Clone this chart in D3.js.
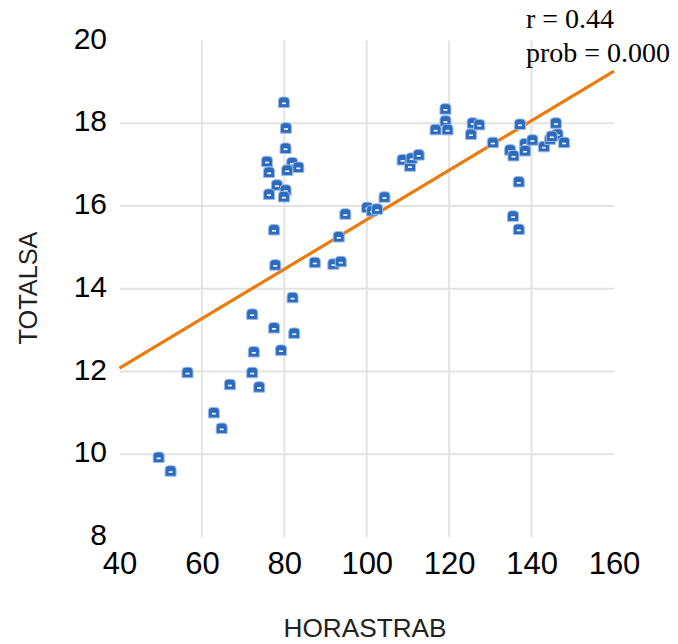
<!DOCTYPE html>
<html>
<head>
<meta charset="utf-8">
<script src="https://cdn.jsdelivr.net/npm/d3@7"></script>
<style>
body { margin: 0; background: #fff; }
</style>
</head>
<body>
<div id="chart"></div>
<script>
// hours worked vs total score, one entry per observation
var horasTrab = [49.5, 52.4, 56.5, 62.9, 64.8, 66.8, 72.2, 72.6, 72.2, 73.9,
  77.5, 79.2, 82.4, 82.0, 77.8, 77.5, 87.4, 91.9, 93.7, 93.2,
  94.8, 100.1, 101.3, 102.5, 104.3, 108.7, 110.5, 110.9, 112.6, 116.7,
  119.1, 119.1, 119.6, 125.3, 125.7, 127.3, 130.6, 137.2, 134.8, 135.6,
  138.4, 138.4, 140.2, 143.0, 144.5, 145.9, 146.3, 144.9, 147.9, 136.9,
  135.5, 136.9, 79.9, 80.4, 80.3, 75.8, 76.3, 81.9, 83.4, 80.7,
  78.2, 76.3, 80.3, 79.9];
var totalSa = [9.92, 9.59, 11.97, 11.0, 10.62, 11.68, 13.38, 12.47, 11.97, 11.62,
  13.05, 12.51, 12.92, 13.78, 14.57, 15.42, 14.63, 14.59, 14.65, 15.25,
  15.8, 15.96, 15.88, 15.92, 16.21, 17.11, 16.96, 17.15, 17.23, 17.84,
  18.34, 18.05, 17.84, 17.73, 18.0, 17.96, 17.53, 17.97, 17.35, 17.21,
  17.5, 17.33, 17.59, 17.43, 17.61, 18.0, 17.73, 17.68, 17.53, 16.58,
  15.75, 15.43, 18.5, 17.88, 17.39, 17.07, 16.81, 17.04, 16.93, 16.86,
  16.5, 16.28, 16.38, 16.22];

var xTicks = [40, 60, 80, 100, 120, 140, 160];
var yTicks = [8, 10, 12, 14, 16, 18, 20];
var fitLine = [9.69, 0.0598]; // intercept, slope
var statText = ["r = 0.44", "prob = 0.000"];

var width = 678;
var height = 644;

var x = d3.scaleLinear().domain([40, 160]).range([119.5, 614]);
var y = d3.scaleLinear().domain([8, 20]).range([537, 40.5]);

var svg = d3.select('#chart')
  .append('svg')
  .attr('width', width)
  .attr('height', height);

// gridlines (inner ticks only)
svg.append('g')
  .selectAll('line')
  .data(xTicks.slice(1, -1))
  .enter()
  .append('line')
  .attr('x1', function (d) { return x(d); })
  .attr('x2', function (d) { return x(d); })
  .attr('y1', y(20))
  .attr('y2', y(8))
  .attr('stroke', '#e3e3e3')
  .attr('stroke-width', 2);

svg.append('g')
  .selectAll('line')
  .data(yTicks.slice(1, -1))
  .enter()
  .append('line')
  .attr('x1', 120)
  .attr('x2', x(160))
  .attr('y1', function (d) { return y(d); })
  .attr('y2', function (d) { return y(d); })
  .attr('stroke', '#e3e3e3')
  .attr('stroke-width', 2);

// axes - labels only
var xAxis = svg.append('g')
  .attr('transform', 'translate(0,' + y(8) + ')')
  .call(d3.axisBottom(x).tickValues(xTicks).tickSize(0).tickPadding(15));
var yAxis = svg.append('g')
  .attr('transform', 'translate(107,0)')
  .call(d3.axisLeft(y).tickValues(yTicks).tickSize(0).tickPadding(0));

[xAxis, yAxis].forEach(function (g) {
  g.select('.domain').remove();
  g.selectAll('text')
    .attr('fill', '#000')
    .style('font-family', 'Liberation Sans, Arial, sans-serif');
});
xAxis.selectAll('text').style('font-size', '31px');
yAxis.selectAll('text').style('font-size', '30px').attr('y', -2);

// regression line
svg.append('line')
  .attr('x1', x(40))
  .attr('y1', y(fitLine[0] + fitLine[1] * 40))
  .attr('x2', x(160))
  .attr('y2', y(fitLine[0] + fitLine[1] * 160))
  .attr('stroke', '#ec7b0c')
  .attr('stroke-width', 3.2);

// points
var pts = svg.append('g')
  .selectAll('g')
  .data(d3.range(horasTrab.length))
  .enter()
  .append('g')
  .attr('transform', function (i) {
    return 'translate(' + x(horasTrab[i]) + ',' + y(totalSa[i]) + ')';
  });
pts.append('path')
  .attr('d', 'M-5.5,5 L-5.5,-2 Q-5.5,-5.5 -2,-5.5 L2,-5.5 Q5.5,-5.5 5.5,-2 L5.5,5 Z')
  .attr('fill', '#2c6bbf')
  .attr('stroke', '#9dbbe4')
  .attr('stroke-width', 1);
pts.append('rect')
  .attr('x', -2)
  .attr('y', 0)
  .attr('width', 4)
  .attr('height', 1.6)
  .attr('fill', '#fff');

// axis titles
svg.append('text')
  .attr('x', 365)
  .attr('y', 637)
  .attr('text-anchor', 'middle')
  .attr('textLength', 163)
  .attr('lengthAdjust', 'spacingAndGlyphs')
  .style('font-family', 'Liberation Sans, Arial, sans-serif')
  .style('font-size', '25px')
  .attr('fill', '#222')
  .text('HORASTRAB');

svg.append('text')
  .attr('transform', 'translate(37,288) rotate(-90)')
  .attr('text-anchor', 'middle')
  .attr('textLength', 113)
  .attr('lengthAdjust', 'spacingAndGlyphs')
  .style('font-family', 'Liberation Sans, Arial, sans-serif')
  .style('font-size', '26px')
  .attr('fill', '#222')
  .text('TOTALSA');

// correlation text
svg.append('g')
  .selectAll('text')
  .data(statText)
  .enter()
  .append('text')
  .attr('x', 526)
  .attr('y', function (d, i) { return 28 + i * 34; })
  .style('font-family', 'Liberation Serif, Times New Roman, serif')
  .style('font-size', '28px')
  .attr('fill', '#000')
  .text(function (d) { return d; });
</script>
</body>
</html>
